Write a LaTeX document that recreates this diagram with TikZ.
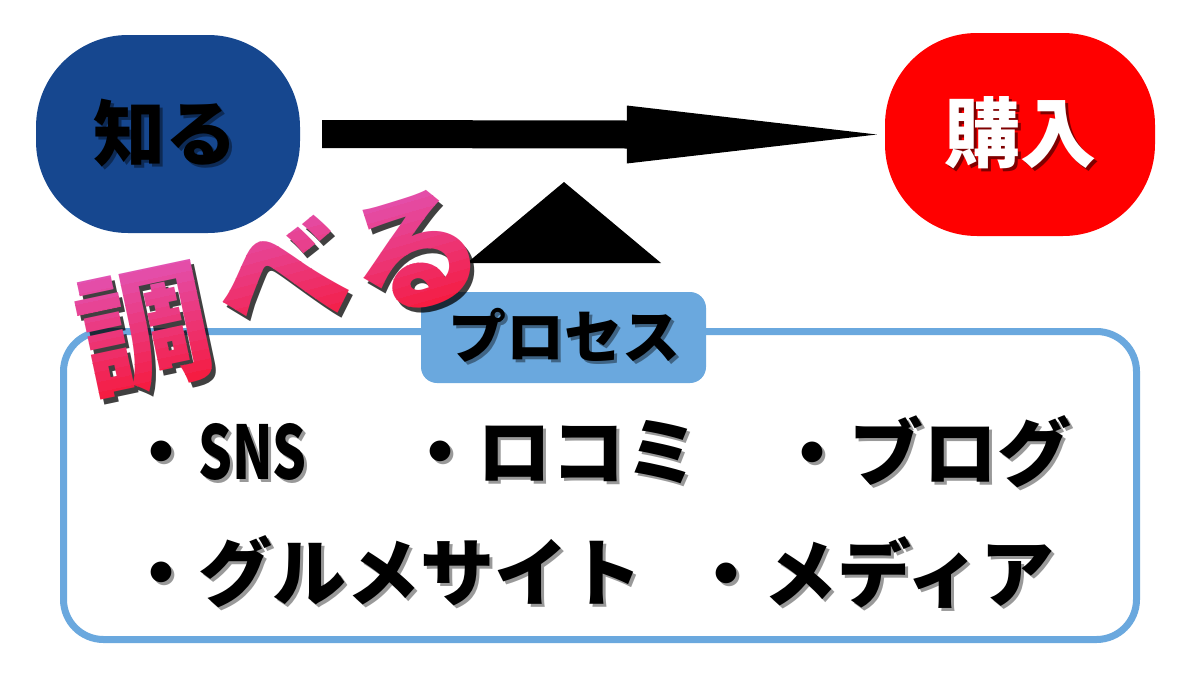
\documentclass[tikz,border=0pt]{standalone}
\usepackage{fontspec}
\newfontfamily\jp{Noto Sans CJK JP}
\usetikzlibrary{calc}
\definecolor{knowblue}{RGB}{22,71,143}
\definecolor{buyred}{RGB}{255,0,0}
\definecolor{boxblue}{RGB}{106,168,222}
\definecolor{jtop}{RGB}{226,82,178}
\definecolor{jbot}{RGB}{246,24,58}
\tikzset{
  pill/.style={rounded corners=92pt, inner sep=0pt},
  itemtxt/.style={font=\jp\bfseries\fontsize{74}{80}\selectfont, inner sep=0pt, text=black},
  pilltxt/.style={font=\jp\bfseries\fontsize{72}{80}\selectfont, inner sep=0pt, text=black},
  buytxt/.style={font=\jp\bfseries\fontsize{76}{80}\selectfont, inner sep=0pt, text=white},
  labtxt/.style={font=\jp\bfseries\fontsize{58}{64}\selectfont, inner sep=0pt, text=black},
  gradfont/.style={font=\jp\bfseries\fontsize{132}{140}\selectfont, inner sep=0pt},
  shadowtxt/.style={text=black, text opacity=.4},
}
% #1 name, #2 x, #3 y, #4 options, #5 text : black text with soft shadow
\newcommand\ShTxt[5]{%
  \node[#4,shadowtxt] at (#2+3,#3+3) {#5};
  \node[#4] (#1) at (#2,#3) {#5};}
% #1 x, #2 y, #3 rotation, #4 character : vertical gradient pink->red
\newcommand\GradChar[4]{%
  \node[gradfont, rotate=#3, text=black, text opacity=.75] at (#1+4,#2+5) {#4};
  \foreach \i in {0,...,13}{%
    \pgfmathtruncatemacro\pc{100-\i*100/13}%
    \begin{scope}[shift={(#1,#2)}, rotate=#3]
      \clip (-110,-70+\i*10) rectangle (110,-59.5+\i*10);
      \node[gradfont, transform shape, text=jtop!\pc!jbot] at (0,0) {#4};
    \end{scope}}}
\newcommand\narrow[1]{{\addfontfeature{FakeStretch=0.72}#1}}
\begin{document}
\begin{tikzpicture}[x=1pt,y=-1pt]
\useasboundingbox (0,0) rectangle (1200,675);
\fill[white] (0,0) rectangle (1200,675);

% stage pills
\node[pill, fill=knowblue, minimum width=264pt, minimum height=198pt] (know) at (168,134) {};
\node[pill, fill=buyred, minimum width=270pt, minimum height=203pt] (buy) at (1020,134.5) {};
\ShTxt{knowtxt}{165}{133}{pilltxt}{知る}
\node[buytxt, text=black, text opacity=.5] at (1023,136) {購入};
\node[buytxt] (buytext) at (1020,133) {購入};

% block arrow know -> buy
\coordinate (as) at ([xshift=22pt]know.east);
\coordinate (at) at ([xshift=-8pt]buy.west);
\fill[black] ($(as)+(0,-14)$) -- ($(at)+(-250,-14)$) -- ($(at)+(-250,-29)$) -- (at)
  -- ($(at)+(-250,29)$) -- ($(at)+(-250,14)$) -- ($(as)+(0,14)$) -- cycle;

% triangle
\fill[black] (467,263) -- (564,182) -- (661,263) -- cycle;

% process box
\node[draw=boxblue, line width=7pt, rounded corners=40pt, minimum width=1073pt,
      minimum height=308pt, inner sep=0pt] (proc) at (600,485.5) {};
\node[fill=boxblue, rounded corners=16pt, minimum width=285pt, minimum height=91pt,
      inner sep=0pt] (lab) at (563.5,337.5) {};
\ShTxt{labtext}{564}{335}{labtxt}{プロセス}

% items
\ShTxt{sns}{124}{452}{itemtxt,anchor=west}{・\narrow{SNS}}
\ShTxt{kuchikomi}{403}{452}{itemtxt,anchor=west}{・ロコミ}
\ShTxt{blog}{775}{452}{itemtxt,anchor=west}{・ブログ}
\ShTxt{gourmet}{124}{572}{itemtxt,anchor=west}{・グルメサイト}
\ShTxt{media}{689}{572}{itemtxt,anchor=west}{・メディア}

% 調べる
\GradChar{145}{331}{12}{調}
\GradChar{282}{276}{15}{べ}
\GradChar{415}{252}{16}{る}
\end{tikzpicture}
\end{document}
